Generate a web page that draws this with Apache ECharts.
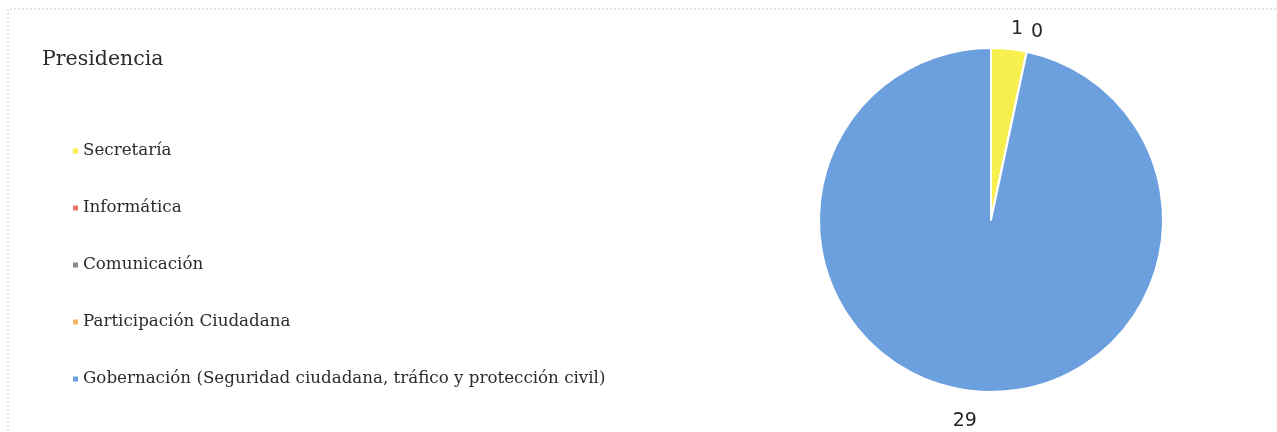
<!DOCTYPE html>
<html>
<head>
<meta charset="utf-8">
<style>
  html, body { margin: 0; padding: 0; background: #ffffff; }
  #chart { width: 1277px; height: 432px; }
</style>
<script src="https://cdn.jsdelivr.net/npm/echarts@6/dist/echarts.min.js"></script>
</head>
<body>
<div id="chart"></div>
<script>
// Areas of the Presidencia department and their counts
const categories = [
  'Secretaría',
  'Informática',
  'Comunicación',
  'Participación Ciudadana',
  'Gobernación (Seguridad ciudadana, tráfico y protección civil)'
];
const values = [1, 0, 0, 0, 29];
const colors = ['#f7ef4e', '#e9756c', '#8c8c8c', '#f3b566', '#6b9fde'];
const titleText = 'Presidencia';

const chart = echarts.init(document.getElementById('chart'), null, { renderer: 'canvas' });

const serif = '"DejaVu Serif", "Liberation Serif", serif';

chart.setOption({
  animation: false,
  backgroundColor: '#ffffff',
  color: colors,
  title: {
    text: titleText,
    left: 37,
    top: 44,
    textStyle: { fontFamily: serif, fontSize: 20.5, fontWeight: 'normal', color: '#2b2b2b' }
  },
  graphic: [{
    type: 'polyline',
    shape: { points: [[8, 431], [8, 9], [1277, 9]] },
    style: { stroke: '#c8c8c8', lineWidth: 1, lineDash: [2, 2], fill: null }
  }],
  legend: {
    orient: 'vertical',
    left: 66,
    top: 137,
    icon: 'rect',
    itemWidth: 7,
    itemHeight: 7,
    itemGap: 39,
    textStyle: { fontFamily: serif, fontSize: 16.7, color: '#2b2b2b', lineHeight: 18, padding: [0, 0, 0, -1] },
    data: categories
  },
  series: [{
    type: 'pie',
    center: [991, 220],
    radius: 172,
    startAngle: 90,
    clockwise: true,
    avoidLabelOverlap: false,
    stillShowZeroSum: true,
    itemStyle: { borderColor: '#ffffff', borderWidth: 2 },
    label: {
      show: true,
      position: 'outside',
      formatter: '{c}',
      fontFamily: '"DejaVu Sans", sans-serif',
      fontSize: 19,
      color: '#262626',
      distanceToLabelLine: 0
    },
    labelLine: { show: false, length: 20, length2: 0 },
    emphasis: { disabled: true },
    data: categories.map((name, i) => {
      const item = { name, value: values[i] };
      // the large slice's value sits a little further out below the pie
      if (i === categories.length - 1) {
        item.labelLine = { show: false, length: 30, length2: 0 };
        item.label = { padding: [0, -7, 0, 0] };
      }
      return item;
    })
  }]
});
</script>
</body>
</html>
